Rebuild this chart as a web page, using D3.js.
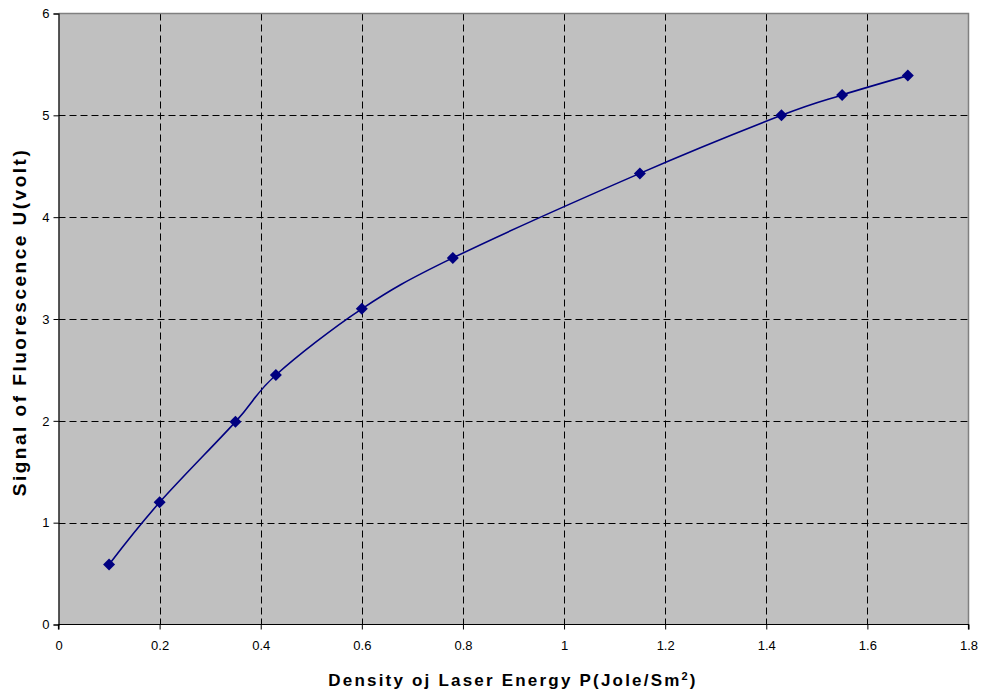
<!DOCTYPE html>
<html><head><meta charset="utf-8">
<script src="https://cdn.jsdelivr.net/npm/d3@7"></script>
<style>body{margin:0;background:#fff;}svg{display:block;font-family:Arial,"Liberation Sans",sans-serif;}</style>
</head><body>
<svg id="c" width="982" height="694"></svg>
<script>
const xValues = [0.1, 0.2, 0.35, 0.43, 0.6, 0.78, 1.15, 1.43, 1.55, 1.68];
const yValues = [0.59, 1.2, 1.99, 2.45, 3.1, 3.6, 4.43, 5.0, 5.2, 5.39];
const xTicks = [0, 0.2, 0.4, 0.6, 0.8, 1, 1.2, 1.4, 1.6, 1.8];
const yTicks = [0, 1, 2, 3, 4, 5, 6];

const svg = d3.select("#c");
const L = 58.5, R = 968.5, T = 13.5, B = 624.5;
const x = d3.scaleLinear().domain([0, 1.8]).range([L, R]);
const y = d3.scaleLinear().domain([0, 6]).range([B, T]);

svg.append("rect").attr("x", L).attr("y", T).attr("width", R - L).attr("height", B - T).attr("fill", "#c0c0c0");

// grid
svg.append("g").selectAll("line").data(yTicks.slice(1, -1)).join("line")
  .attr("x1", L).attr("x2", R).attr("y1", d => Math.round(y(d)) + 0.5).attr("y2", d => Math.round(y(d)) + 0.5)
  .attr("stroke", "#000").attr("stroke-dasharray", "7,4").attr("stroke-width", 1);
svg.append("g").selectAll("line").data(xTicks.slice(1, -1)).join("line")
  .attr("y1", T).attr("y2", B).attr("x1", d => Math.round(x(d)) + 0.5).attr("x2", d => Math.round(x(d)) + 0.5)
  .attr("stroke", "#000").attr("stroke-dasharray", "7,4").attr("stroke-width", 1);

// border top/right
svg.append("path").attr("d", `M${L},${T}H${R}V${B}`).attr("fill", "none").attr("stroke", "#808080").attr("stroke-width", 1.5);

// axes
const xAxis = d3.axisBottom(x).tickValues(xTicks).tickSize(5).tickPadding(11).tickFormat(d => String(d));
const yAxis = d3.axisLeft(y).tickValues(yTicks).tickSize(5).tickPadding(4).tickFormat(d => String(d));
const gx = svg.append("g").attr("transform", `translate(0,${B})`).call(xAxis);
const gy = svg.append("g").attr("transform", `translate(${L},0)`).call(yAxis);
[gx, gy].forEach(g => {
  g.select(".domain").attr("stroke", "#000").attr("stroke-width", 1.2);
  g.selectAll(".tick line").attr("stroke", "#000");
  g.selectAll(".tick text").attr("font-size", 13).attr("fill", "#000").attr("font-family", "Arial, 'Liberation Sans', sans-serif");
});
gx.select(".domain").attr("d", `M${L},5V0H${R}V5`);

// line
const pts = xValues.map((v, i) => [v, yValues[i]]);
svg.append("path").datum(pts)
  .attr("d", d3.line().x(d => x(d[0])).y(d => y(d[1])).curve(d3.curveCatmullRom.alpha(0)))
  .attr("fill", "none").attr("stroke", "#000080").attr("stroke-width", 1.6);

// markers
svg.append("g").selectAll("path").data(pts).join("path")
  .attr("transform", d => `translate(${x(d[0])},${y(d[1])})`)
  .attr("d", "M0,-6L6,0L0,6L-6,0Z").attr("fill", "#000080");

// titles
svg.append("text").attr("x", 513).attr("y", 686).attr("text-anchor", "middle")
  .attr("font-size", 17).attr("font-weight", "bold").attr("fill", "#000").attr("letter-spacing", 2.2)
  .html('Density oj Laser Energy P(Jole/Sm<tspan font-size="11" dy="-6">2</tspan><tspan dy="6">)</tspan>');
svg.append("text").attr("transform", "translate(26,322) rotate(-90)").attr("text-anchor", "middle")
  .attr("font-size", 19).attr("font-weight", "bold").attr("fill", "#000").attr("letter-spacing", 2.5)
  .text("Signal of Fluorescence U(volt)");
</script>
</body></html>
